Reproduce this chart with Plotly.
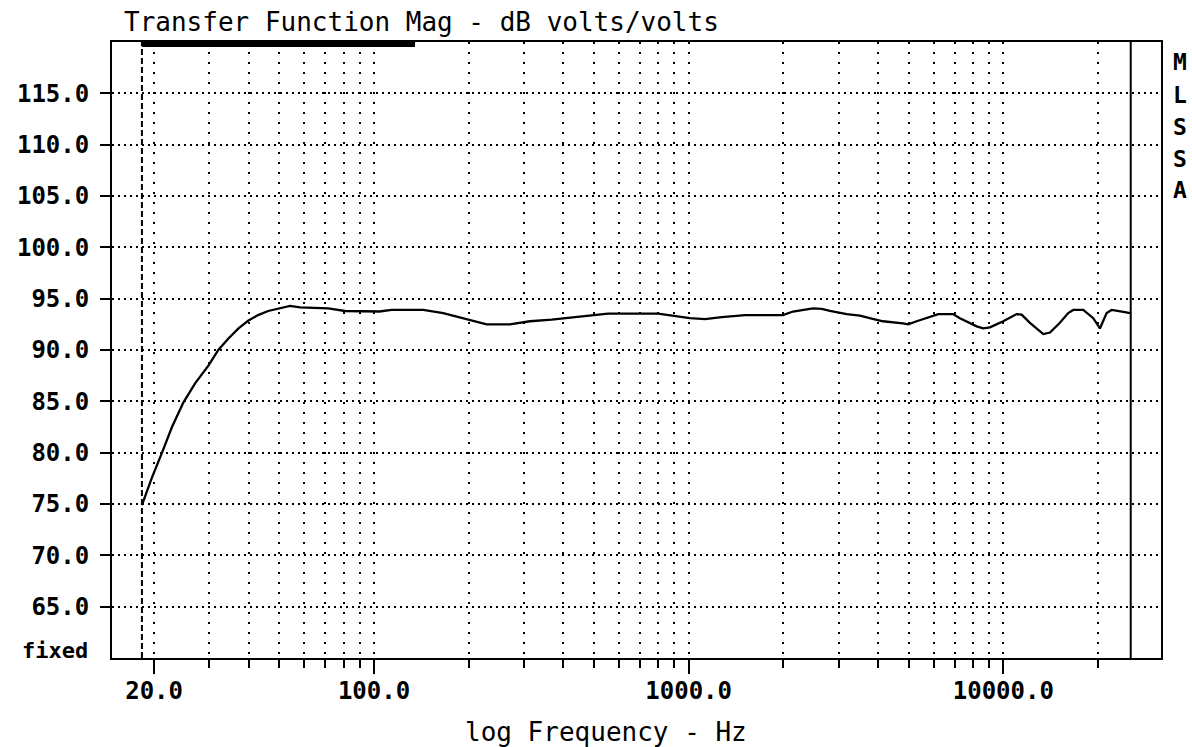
import numpy as np
import plotly.graph_objects as go

# ---- data ----
freq_hz = [18.3, 19.7, 21.2, 22.8, 24.8, 27.0, 29.8, 32.0, 34.4, 37.1,
           39.8, 42.8, 46.1, 49.6, 54.1, 58.2, 71.6, 80.9, 90.3, 104,
           113.8, 143.4, 166, 197, 228, 270, 313, 367, 441, 492,
           554, 799, 883, 1009, 1127, 1274, 1510, 1994, 2145, 2308,
           2483, 2647, 2812, 3178, 3502, 3815, 4144, 4797, 4988, 5303,
           5845, 6211, 6917, 7278, 8227, 8634, 9066, 9993, 11024, 11434,
           12148, 13396, 14068, 15127, 16078, 16676, 17948, 19310, 20277, 20770,
           21294, 22087, 23470, 24345, 25256]
mag_db = [74.9, 77.6, 80.0, 82.5, 84.9, 86.75, 88.5, 90.0, 91.1, 92.1,
          92.85, 93.4, 93.8, 94.05, 94.3, 94.15, 94.05, 93.8, 93.75, 93.75,
          93.9, 93.9, 93.6, 93.0, 92.5, 92.5, 92.8, 92.95, 93.2, 93.4,
          93.55, 93.55, 93.35, 93.1, 93.0, 93.2, 93.4, 93.4, 93.75, 93.9,
          94.05, 94.0, 93.8, 93.5, 93.35, 93.05, 92.8, 92.6, 92.5, 92.8,
          93.25, 93.5, 93.5, 93.1, 92.3, 92.1, 92.2, 92.8, 93.5, 93.45,
          92.65, 91.55, 91.7, 92.65, 93.6, 93.9, 93.9, 93.1, 92.1, 92.8,
          93.6, 93.9, 93.8, 93.7, 93.6]

x_major_ticks = [20, 100, 1000, 10000]
x_major_labels = ["20.0", "100.0", "1000.0", "10000.0"]
x_minor_ticks = [30, 40, 50, 60, 70, 80, 90,
                 200, 300, 400, 500, 600, 700, 800, 900,
                 2000, 3000, 4000, 5000, 6000, 7000, 8000, 9000,
                 20000]
y_ticks = [65, 70, 75, 80, 85, 90, 95, 100, 105, 110, 115]
y_labels = [f"{v:.1f}" for v in y_ticks]

x_range_hz = [14.7, 31700]
y_range_db = [60, 120]
cursor_hz = 18.3
end_marker_hz = 25400
top_bar_end_hz = 135
side_letters = ["M", "L", "S", "S", "A"]

title_text = "Transfer Function Mag - dB volts/volts"
xlabel_text = "log Frequency - Hz"

MONO = "DejaVu Sans Mono"

fig = go.Figure()

# response curve
fig.add_trace(go.Scatter(x=freq_hz, y=mag_db, mode="lines",
                         line=dict(color="black", width=2.3),
                         hoverinfo="skip"))
# dashed cursor line
fig.add_trace(go.Scatter(x=[cursor_hz, cursor_hz], y=y_range_db, mode="lines",
                         line=dict(color="black", width=2, dash="6px,3px"),
                         hoverinfo="skip"))
# solid end marker line
fig.add_trace(go.Scatter(x=[end_marker_hz, end_marker_hz], y=y_range_db, mode="lines",
                         line=dict(color="black", width=2),
                         hoverinfo="skip"))
# thick bar along top
fig.add_trace(go.Scatter(x=[cursor_hz, top_bar_end_hz], y=[119.8, 119.8], mode="lines",
                         line=dict(color="black", width=6),
                         hoverinfo="skip"))

tickfont = dict(family=MONO, size=24, color="black", weight="bold")

fig.update_layout(
    width=1192, height=747,
    margin=dict(l=112, r=31, t=42, b=89),
    paper_bgcolor="white", plot_bgcolor="white",
    showlegend=False,
    xaxis=dict(
        type="log",
        range=[np.log10(x_range_hz[0]), np.log10(x_range_hz[1])],
        tickmode="array", tickvals=x_major_ticks, ticktext=x_major_labels,
        ticks="outside", ticklen=14, tickwidth=2, tickcolor="black",
        tickfont=tickfont, ticklabelstandoff=-4,
        showline=True, linecolor="black", linewidth=2, mirror=True,
        showgrid=True, gridcolor="black", gridwidth=2, griddash="2px,8px",
        zeroline=False,
        minor=dict(tickmode="array", tickvals=x_minor_ticks,
                   ticks="outside", ticklen=8, tickwidth=2, tickcolor="black",
                   showgrid=True, gridcolor="black", gridwidth=2, griddash="2px,8px"),
    ),
    yaxis=dict(
        range=y_range_db,
        tickmode="array", tickvals=y_ticks, ticktext=y_labels,
        ticks="outside", ticklen=10, tickwidth=2, tickcolor="black",
        tickfont=tickfont, ticklabelstandoff=6,
        showline=True, linecolor="black", linewidth=2, mirror=True,
        showgrid=True, gridcolor="black", gridwidth=2, griddash="2px,4px",
        zeroline=False,
    ),
)

pw = 1049.0
ph = 616.0

annotations = [
    dict(text=title_text, xref="paper", yref="paper",
         x=(122 - 112) / pw, y=1 + (42 - 22) / ph,
         xanchor="left", yanchor="middle", showarrow=False,
         font=dict(family=MONO, size=26, color="black")),
    dict(text=xlabel_text, xref="paper", yref="paper",
         x=(606 - 112) / pw, y=(658 - 732) / ph,
         xanchor="center", yanchor="middle", showarrow=False,
         font=dict(family=MONO, size=26, color="black")),
    dict(text="fixed", xref="paper", yref="paper",
         x=(90 - 112) / pw, y=(658 - 650) / ph,
         xanchor="right", yanchor="middle", showarrow=False,
         font=dict(family=MONO, size=22, color="black", weight="bold")),
]
letter_y = [62, 95, 127, 159, 190]
for ch, ly in zip(side_letters, letter_y):
    annotations.append(dict(text=ch, xref="paper", yref="paper",
                            x=(1180 - 112) / pw, y=(658 - ly) / ph,
                            xanchor="center", yanchor="middle", showarrow=False,
                            font=dict(family=MONO, size=23, color="black", weight="bold")))
fig.update_layout(annotations=annotations)

fig.write_html("out.html", config={"displayModeBar": False},
               post_script="document.body.style.margin='0';")
